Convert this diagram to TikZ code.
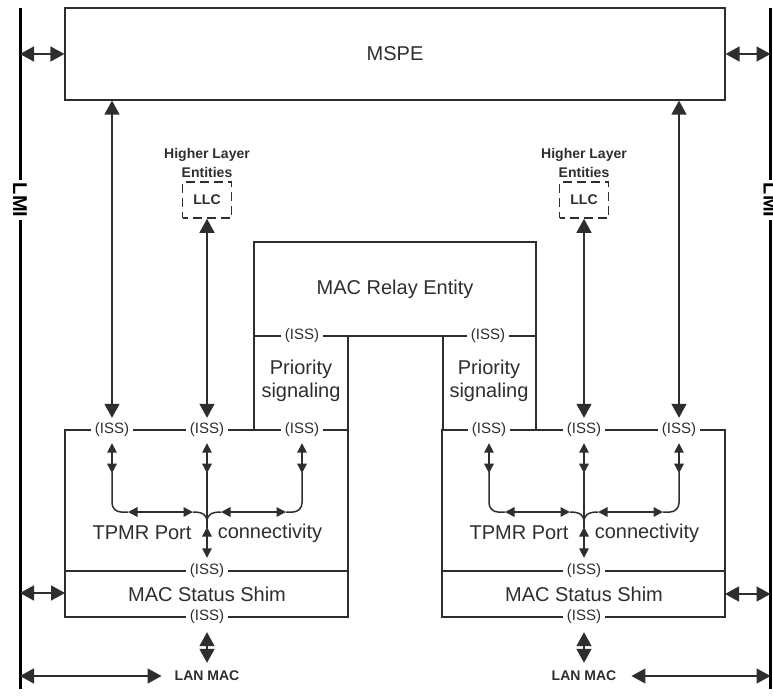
\documentclass[tikz,border=0pt]{standalone}
\usepackage{fontspec}
\setmainfont{Liberation Sans}
\usetikzlibrary{arrows.meta}
\definecolor{ink}{gray}{0.18}
\begin{document}
\begin{tikzpicture}[x=1pt,y=-1pt,
  line/.style={draw=ink,line width=1.2pt},
  conn/.style={draw=ink,line width=1.5pt},
  box/.style={draw=ink,line width=1.2pt,inner sep=0pt,text=ink,font=\fontsize{20}{23}\selectfont},
  iss/.style={fill=white,inner xsep=4pt,inner ysep=1pt,text=ink,font=\fontsize{15}{15}\selectfont},
  txt/.style={text=ink,align=center,inner sep=1pt,font=\fontsize{20}{23}\selectfont},
  hl/.style={text=ink,align=center,inner sep=3pt,font=\bfseries\fontsize{14}{18.5}\selectfont},
  lmi/.style={text=black,inner sep=3pt,font=\bfseries\fontsize{20}{20}\selectfont},
  lmiline/.style={draw=black,line width=3pt},
  big/.style={conn,arrows={Triangle[length=14pt,width=15pt]-Triangle[length=14pt,width=15pt]}},
  smallarr/.style={conn,arrows={Triangle[length=9.5pt,width=9.5pt]-Triangle[length=9.5pt,width=9.5pt]}},
  llc/.style={draw=ink,line width=1.6pt,dash pattern=on 9pt off 5pt,dash phase=4pt,minimum width=49pt,minimum height=36pt,inner sep=0pt,text=ink,font=\bfseries\fontsize{14}{14}\selectfont}
]
\useasboundingbox (0,0) rectangle (773,698);

% LMI lines
\node[lmi,rotate=-90] (lmiL) at (20,200) {LMI};
\node[lmi,rotate=-90] (lmiR) at (770.5,200) {LMI};
\coordinate (lTop) at (20,8);
\coordinate (lBot) at (20,689);
\coordinate (rTop) at (770.5,8);
\coordinate (rBot) at (770.5,689);
\draw[lmiline] (lTop) -- (lmiL.west) (lmiL.east) -- (lBot);
\draw[lmiline] (rTop) -- (lmiR.west) (lmiR.east) -- (rBot);

% MSPE
\node[box,minimum width=660pt,minimum height=92pt] (mspe) at (395,54) {MSPE};
\draw[big] (mspe.west) -- (mspe.west -| lTop);
\draw[big] (mspe.east) -- (mspe.east -| rTop);

% MAC Relay Entity
\node[box,minimum width=282pt,minimum height=94pt] (relay) at (395,289) {MAC Relay Entity};

% Priority signaling boxes
\draw[line] (254,336) -- (254,430);
\draw[line] (348,336) -- (348,430);
\draw[line] (443,336) -- (443,430);
\draw[line] (536,336) -- (536,430);
\node[iss] (issRL) at (302,336) {(ISS)};
\node[iss] (issRR) at (488,336) {(ISS)};
\node[txt] (prioL) at (301,381) {Priority\\signaling};
\node[txt] (prioR) at (489,381) {Priority\\signaling};

% Port boxes
\foreach \s/\o in {L/0,R/377}{
\begin{scope}[xshift=\o]
  \draw[line] (65,430) rectangle (348,617);
  \draw[line] (65,571) -- (348,571);
  \node[iss] (issA\s) at (112,430) {(ISS)};
  \node[iss] (issB\s) at (207,430) {(ISS)};
  \node[iss] (issC\s) at (302,430) {(ISS)};
  \node[iss] (issM\s) at (207,571) {(ISS)};
  \node[iss] (issD\s) at (207,617) {(ISS)};
  \node[txt] (tp\s) at (142,533) {TPMR Port};
  \node[txt] (cn\s) at (270,533) {connectivity};
  \node[txt] (sh\s) at (207,594) {MAC Status Shim};
  \node[hl] (lan\s) at (207,676) {LAN MAC};
  \draw[smallarr] ([yshift=-5pt]issA\s.south) -- ++(0,30);
  \draw[smallarr] ([yshift=-5pt]issB\s.south) -- ++(0,30);
  \draw[smallarr] ([yshift=-5pt]issC\s.south) -- ++(0,30);
  \coordinate (ha\s) at (128,512);
  \coordinate (hb\s) at (193,512);
  \coordinate (hc\s) at (221,512);
  \coordinate (hd\s) at (286,512);
  \coordinate (mg\s) at (207,522);
  \draw[conn,rounded corners=9pt] (112,472) -- (112,512) -- (ha\s);
  \draw[smallarr] (ha\s) -- (hb\s);
  \draw[conn] (hb\s) .. controls (203,512) and (207,515) .. (mg\s);
  \draw[conn,rounded corners=9pt] (302,472) -- (302,512) -- (hd\s);
  \draw[smallarr] (hd\s) -- (hc\s);
  \draw[conn] (hc\s) .. controls (211,512) and (207,515) .. (mg\s);
  \draw[conn] (207,472) -- (207,528);
  \draw[smallarr] (207,527) -- ([yshift=5pt]issM\s.north);
  \draw[big] ([yshift=-7pt]issD\s.south) -- ([yshift=5pt]lan\s.north);
\end{scope}
}

% Higher layer entities
\node[hl] (hlL) at (207,163) {Higher Layer\\Entities};
\node[hl] (hlR) at (584,163) {Higher Layer\\Entities};
\node[llc] (llcL) at (207,200) {LLC};
\node[llc] (llcR) at (584,200) {LLC};

% Vertical arrows
\draw[big] ([yshift=4pt]issAL.north) -- (mspe.south -| issAL);
\draw[big] ([yshift=4pt]issCR.north) -- (mspe.south -| issCR);
\draw[big] ([yshift=4pt]issBL.north) -- (llcL.south);
\draw[big] ([yshift=4pt]issBR.north) -- (llcR.south);

% Shim to LMI
\coordinate (shimL) at (65,593);
\coordinate (shimR) at (725,594);
\draw[big] (shimL) -- (shimL -| lTop);
\draw[big] (shimR) -- (shimR -| rTop);

% LAN MAC to LMI
\draw[big] ([xshift=-10pt]lanL.west) -- (lanL.west -| lBot);
\draw[big] ([xshift=12pt]lanR.east) -- (lanR.east -| rBot);
\end{tikzpicture}
\end{document}
